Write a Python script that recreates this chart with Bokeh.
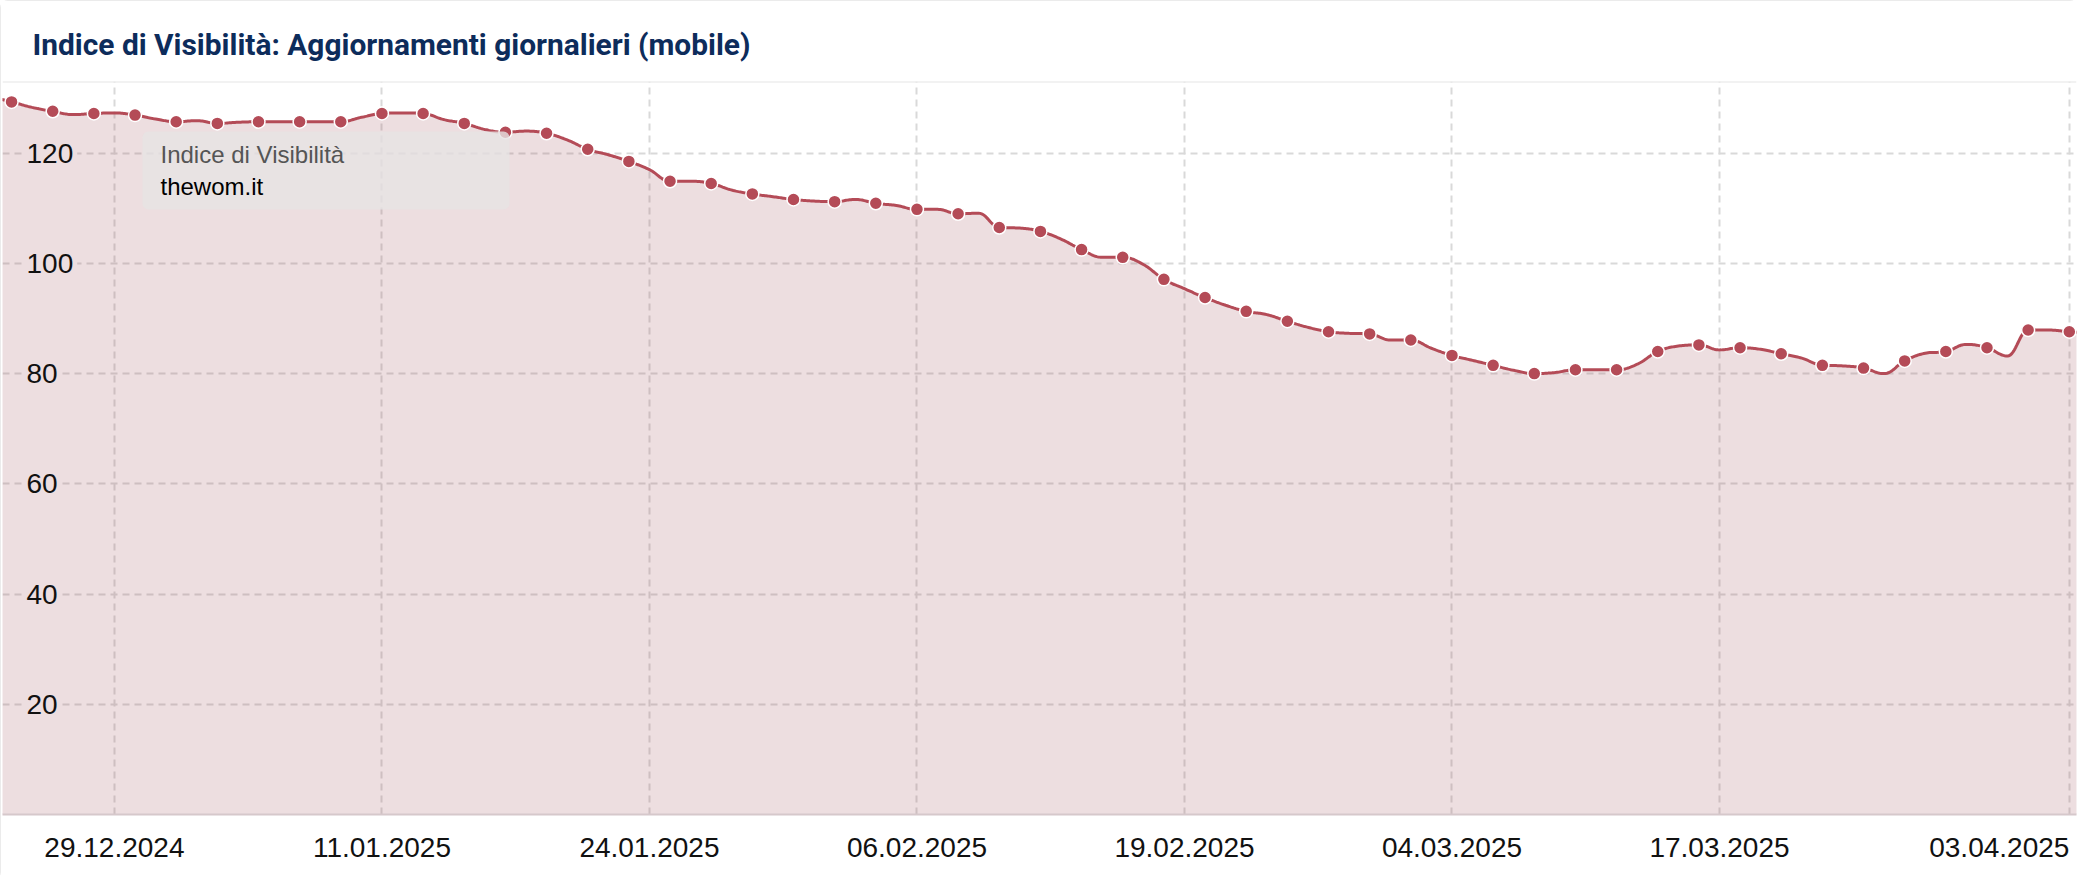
import numpy as np
import pandas as pd
from bokeh.plotting import figure
from bokeh.models import FixedTicker, Range1d, Label, BoxAnnotation, Span
from bokeh.core.properties import value
from bokeh.embed import file_html
from bokeh.resources import INLINE

# ---------------- data ----------------
title_text = "Indice di Visibilità: Aggiornamenti giornalieri (mobile)"
legend_title = "Indice di Visibilità"
series_name = "thewom.it"

first_day = "2024-12-23"
last_day = "2025-04-04"
# daily visibility values (markers shown every second day, starting 24.12.2024)
visibility = [
    130.2, 129.3, 128.3, 127.6, 127.0, 127.2, 127.3, 126.9, 126.2, 125.7,
    125.9, 125.4, 125.6, 125.7, 125.7, 125.7, 125.7, 125.7, 126.5, 127.2,
    127.3, 127.2, 126.1, 125.4, 124.3, 123.8, 124.0, 123.6, 122.4, 120.7,
    119.7, 118.5, 117.0, 114.9, 114.9, 114.5, 113.3, 112.6, 112.1, 111.6,
    111.3, 111.2, 111.6, 110.9, 110.5, 109.8, 109.8, 109.0, 109.1, 106.5,
    106.4, 105.8, 104.4, 102.5, 101.1, 101.1, 99.8, 97.1, 95.4, 93.8,
    92.4, 91.3, 90.7, 89.5, 88.4, 87.6, 87.3, 87.2, 86.1, 86.1,
    84.6, 83.3, 82.4, 81.5, 80.6, 80.0, 80.2, 80.7, 80.7, 80.7,
    81.7, 84.0, 85.0, 85.2, 84.3, 84.7, 84.4, 83.6, 82.8, 81.5,
    81.4, 81.0, 80.0, 82.3, 83.7, 84.0, 85.3, 84.7, 83.2, 87.9,
    87.9, 87.6, 87.4,
]

x_tick_dates = ["2024-12-29", "2025-01-11", "2025-01-24", "2025-02-06",
                "2025-02-19", "2025-03-04", "2025-03-17", "2025-04-03"]
x_tick_labels = ["29.12.2024", "11.01.2025", "24.01.2025", "06.02.2025",
                 "19.02.2025", "04.03.2025", "17.03.2025", "03.04.2025"]
y_ticks = [20, 40, 60, 80, 100, 120]
y_tick_labels = ["20", "40", "60", "80", "100", "120"]

# ---------------- styling ----------------
LINE = "#b44b57"
FILL = "#a55a64"
GRID = "#d9d9d9"
DAY = 86400000.0
W, H = 2078, 880
BORDER_L, BORDER_R, BORDER_T, BORDER_B = 2, 2, 81, 66
LABEL_FONT_PX = 28

dates = pd.date_range(first_day, last_day, freq="D")
x_ms = np.array([d.value / 1e6 for d in dates])
y_vals = np.array(visibility, dtype=float)
tick_ms = [pd.Timestamp(d).value // 10**6 for d in x_tick_dates]


def spline_path(xs, ys, smoothing=1.5, steps=16):
    """Highcharts-style spline rendering of the data points."""
    n = len(xs)
    lc = [None] * n
    rc = [None] * n
    den = smoothing + 1
    for i in range(1, n - 1):
        x, y = xs[i], ys[i]
        lx, ly = xs[i - 1], ys[i - 1]
        nx, ny = xs[i + 1], ys[i + 1]
        lcx = (smoothing * x + lx) / den
        lcy = (smoothing * y + ly) / den
        rcx = (smoothing * x + nx) / den
        rcy = (smoothing * y + ny) / den
        corr = 0.0
        if rcx != lcx:
            corr = (rcy - lcy) * (rcx - x) / (rcx - lcx) + y - rcy
        lcy += corr
        rcy += corr
        if lcy > ly and lcy > y:
            lcy = max(ly, y); rcy = 2 * y - lcy
        elif lcy < ly and lcy < y:
            lcy = min(ly, y); rcy = 2 * y - lcy
        if rcy > ny and rcy > y:
            rcy = max(ny, y); lcy = 2 * y - rcy
        elif rcy < ny and rcy < y:
            rcy = min(ny, y); lcy = 2 * y - rcy
        lc[i] = (lcx, lcy)
        rc[i] = (rcx, rcy)
    t = np.linspace(0, 1, steps + 1)[1:]
    px, py = [xs[0]], [ys[0]]
    for i in range(1, n):
        p0 = (xs[i - 1], ys[i - 1])
        p3 = (xs[i], ys[i])
        p1 = rc[i - 1] if rc[i - 1] is not None else p0
        p2 = lc[i] if lc[i] is not None else p3
        bx = (1 - t) ** 3 * p0[0] + 3 * (1 - t) ** 2 * t * p1[0] + 3 * (1 - t) * t ** 2 * p2[0] + t ** 3 * p3[0]
        by = (1 - t) ** 3 * p0[1] + 3 * (1 - t) ** 2 * t * p1[1] + 3 * (1 - t) * t ** 2 * p2[1] + t ** 3 * p3[1]
        px.extend(bx.tolist())
        py.extend(by.tolist())
    return np.array(px), np.array(py)


day_idx = (x_ms - x_ms[0]) / DAY
sx, sy = spline_path(day_idx, y_vals)
sx_ms = x_ms[0] + sx * DAY

x_start = x_ms[1] - 0.44 * DAY
x_end = x_ms[-2] + 0.35 * DAY

p = figure(width=W, height=H, x_axis_type="datetime", y_axis_location=None,
           x_range=Range1d(x_start, x_end), y_range=Range1d(0, 133),
           output_backend="svg", toolbar_location=None)
p.min_border_left = BORDER_L
p.min_border_right = BORDER_R
p.min_border_top = BORDER_T
p.min_border_bottom = BORDER_B
p.outline_line_color = None
p.background_fill_color = "white"
p.border_fill_color = "white"
p.styles = {"outline": "1px solid #e4e4e4", "outline-offset": "-1px", "border-radius": "8px"}

# title
p.title.text = title_text
p.title.text_font = "Roboto"
p.title.text_font_style = "bold"
p.title.text_font_size = "29.9px"
p.title.text_color = "#0d2c5b"
p.title.align = "left"
p.title.offset = 30
p.title.standoff = 39

# grids
p.xgrid.ticker = FixedTicker(ticks=tick_ms)
p.ygrid.ticker = FixedTicker(ticks=y_ticks)
for g in (p.xgrid, p.ygrid):
    g.grid_line_color = GRID
    g.grid_line_width = 2
    g.grid_line_dash = "7 5"

# x axis: the last label is right-aligned to its tick (shifted by half its width)
frame_w = W - BORDER_L - BORDER_R
px_per_ms = frame_w / (x_end - x_start)
half_label_px = 0.5 * 5.0 * LABEL_FONT_PX
last_label_pos = tick_ms[-1] - half_label_px / px_per_ms
axis_ticks = list(tick_ms[:-1]) + [last_label_pos]
xa = p.xaxis[0]
xa.ticker = FixedTicker(ticks=axis_ticks)
xa.major_label_overrides = {t: lab for t, lab in zip(axis_ticks, x_tick_labels)}
xa.major_tick_line_color = None
xa.minor_tick_line_color = None
xa.axis_line_color = "#d6c8cb"
xa.axis_line_width = 2
xa.major_label_text_font = "Liberation Sans"
xa.major_label_text_font_size = f"{LABEL_FONT_PX}px"
xa.major_label_text_color = "#111111"
xa.major_label_standoff = 17

# series
p.varea(x=sx_ms, y1=0, y2=sy, fill_color=FILL, fill_alpha=0.2)
p.line(x=sx_ms, y=sy, line_color=LINE, line_width=3)
p.scatter(x=x_ms[1::2], y=y_vals[1::2], size=13, fill_color=LINE, line_color="white", line_width=1.5)

# y tick labels inside the plot
p.text(x=[x_start] * len(y_ticks), y=y_ticks, text=y_tick_labels, x_offset=20,
       text_align="left", text_baseline="middle", text_font=value("Liberation Sans"),
       text_font_size=value(f"{LABEL_FONT_PX}px"), text_color="#111111",
       background_fill_color="#eddee0", padding=4)

# separator under the title
p.add_layout(Span(location=133, dimension="width", line_color="#e6e6e6", line_width=2))

# legend box
p.add_layout(BoxAnnotation(left=140, right=507, bottom=605, top=683,
                           left_units="screen", right_units="screen",
                           bottom_units="screen", top_units="screen",
                           fill_color="#e6e3e4", fill_alpha=0.8, line_color=None,
                           border_radius=6))
p.add_layout(Label(x=158, y=660, x_units="screen", y_units="screen", text=legend_title,
                   text_baseline="alphabetic", text_font="Liberation Sans",
                   text_font_size="24px", text_color="#555555"))
p.add_layout(Label(x=158, y=628, x_units="screen", y_units="screen", text=series_name,
                   text_baseline="alphabetic", text_font="Liberation Sans",
                   text_font_size="24px", text_color="#000000"))

open("out.html", "w").write(file_html(p, INLINE))
